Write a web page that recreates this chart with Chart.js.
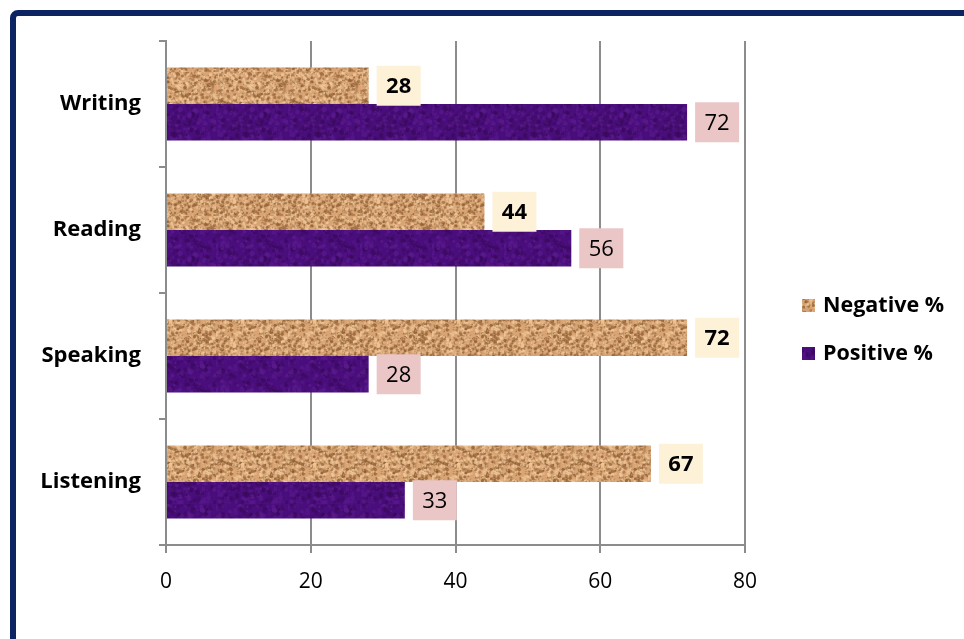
<!DOCTYPE html>
<html>
<head>
<meta charset="utf-8">
<script src="https://cdn.jsdelivr.net/npm/chart.js@4"></script>
<style>
  html, body { margin: 0; padding: 0; background: #fff; overflow: hidden; }
  #frame {
    position: absolute; left: 10px; top: 10px; width: 1000px; height: 700px;
    border: 6px solid #0c2461; border-top-left-radius: 8px; box-sizing: border-box;
  }
  #c { position: absolute; left: 0; top: 0; }
</style>
</head>
<body>
<div id="frame"></div>
<canvas id="c" width="964" height="639"></canvas>
<script>
// ── DATA ─────────────────────────────────────
const skills = ["Writing", "Reading", "Speaking", "Listening"];
const negativePct = [28, 44, 72, 67];
const positivePct = [72, 56, 28, 33];
const xTicks = [0, 20, 40, 60, 80];

// ── TEXTURES (styling only) ──────────────────
function makeTexture(base, dark, light, seed, density, maxR) {
  const cv = document.createElement("canvas");
  cv.width = 72; cv.height = 72;
  const g = cv.getContext("2d");
  g.fillStyle = base;
  g.fillRect(0, 0, 72, 72);
  let s = seed;
  const rnd = () => { s = (s * 9301 + 49297) % 233280; return s / 233280; };
  for (let i = 0; i < density; i++) {
    const x = rnd() * 72, y = rnd() * 72, r = 0.5 + rnd() * maxR;
    g.fillStyle = rnd() < 0.5 ? dark : light;
    g.globalAlpha = 0.3 + rnd() * 0.5;
    g.beginPath(); g.arc(x, y, r, 0, Math.PI * 2); g.fill();
  }
  g.globalAlpha = 1;
  return g.createPattern(cv, "repeat");
}

const ctx = document.getElementById("c").getContext("2d");
const tanPattern = makeTexture("#d8a474", "#8f5e34", "#f2cc9e", 17, 1400, 1.3);
const purplePattern = makeTexture("#4a0e7c", "#3a0a5c", "#5a1a8c", 41, 500, 2.2);

// ── PLUGINS ──────────────────────────────────
const valueBoxes = {
  id: "valueBoxes",
  afterDatasetsDraw(chart) {
    const c = chart.ctx;
    chart.data.datasets.forEach((ds, di) => {
      const meta = chart.getDatasetMeta(di);
      meta.data.forEach((bar, i) => {
        const txt = String(ds.data[i]);
        c.save();
        c.font = (di === 0 ? "bold " : "") + "22px 'Open Sans'";
        const w = 44, h = 40;
        const x = bar.x + 8, y = bar.y - h / 2;
        c.fillStyle = di === 0 ? "#fdf1d8" : "#eac6c6";
        c.fillRect(x, y, w, h);
        c.fillStyle = "#000";
        c.textAlign = "center";
        c.textBaseline = "middle";
        c.fillText(txt, x + w / 2, bar.y + 1);
        c.restore();
      });
    });
  }
};

const sideLegend = {
  id: "sideLegend",
  afterDraw(chart) {
    const c = chart.ctx;
    const items = [
      { label: "Negative %", fill: tanPattern, y: 306 },
      { label: "Positive %", fill: purplePattern, y: 354 }
    ];
    items.forEach(it => {
      c.save();
      c.fillStyle = it.fill;
      c.fillRect(802, it.y - 7, 13, 13);
      c.fillStyle = "#000";
      c.font = "bold 21.5px 'Open Sans'";
      c.textBaseline = "middle";
      c.fillText(it.label, 823, it.y);
      c.restore();
    });
  }
};

// ── CHART ────────────────────────────────────
new Chart(ctx, {
  type: "bar",
  data: {
    labels: skills,
    datasets: [
      { label: "Negative %", data: negativePct, backgroundColor: tanPattern,
        categoryPercentage: 0.58, barPercentage: 1.0 },
      { label: "Positive %", data: positivePct, backgroundColor: purplePattern,
        categoryPercentage: 0.58, barPercentage: 1.0 }
    ]
  },
  options: {
    indexAxis: "y",
    responsive: false,
    animation: false,
    devicePixelRatio: 1,
    layout: { padding: { left: 0, top: 41, right: 219, bottom: 0 } },
    plugins: { legend: { display: false }, tooltip: { enabled: false } },
    scales: {
      x: {
        min: xTicks[0], max: xTicks[xTicks.length - 1],
        afterBuildTicks: s => { s.ticks = xTicks.map(v => ({ value: v })); },
        grid: { color: "#8c8c8c", lineWidth: 2, tickLength: 8 },
        border: { color: "#8c8c8c", width: 2 },
        ticks: { color: "#000", padding: 16, font: { family: "'Open Sans'", size: 21 } },
        afterFit: s => { s.height = 94; }
      },
      y: {
        grid: { drawOnChartArea: false, color: "#8c8c8c", lineWidth: 2, tickLength: 7 },
        border: { color: "#8c8c8c", width: 2 },
        ticks: { color: "#000", padding: 18, font: { family: "'Open Sans'", size: 22, weight: "bold" } },
        afterFit: s => { s.width = 166; }
      }
    }
  },
  plugins: [valueBoxes, sideLegend]
});
</script>
</body>
</html>
